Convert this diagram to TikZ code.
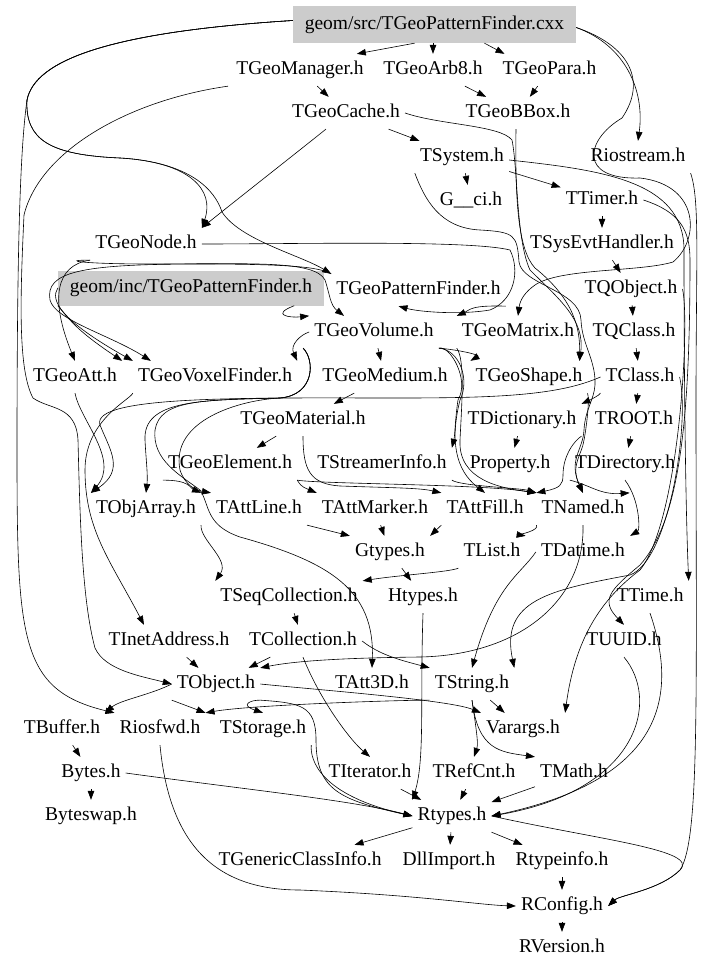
\documentclass[tikz,border=0pt]{standalone}
\usepackage{fontspec}
\setmainfont{Liberation Serif}
\usetikzlibrary{arrows.meta}
\definecolor{boxgray}{RGB}{204,204,204}
\begin{document}
\begin{tikzpicture}[x=1pt,y=-1pt,
  n/.style={font=\fontsize{19.5}{22}\selectfont, inner xsep=5pt, inner ysep=7pt, text height=13.6pt, text depth=4.3pt},
  g/.style={n, fill=boxgray},
  e/.style={-{Triangle[length=9pt,width=6.5pt]}, line width=0.6pt}]
\useasboundingbox (0,0) rectangle (713,971);
% nodes
\node[g, minimum width=283pt, minimum height=37pt] (C) at (434.5,24.5) {geom/src/TGeoPatternFinder.cxx};
\node[n] (GM) at (300,70) {TGeoManager.h};
\node[n] (GA) at (433,70) {TGeoArb8.h};
\node[n] (GP) at (549.5,70) {TGeoPara.h};
\node[n] (GC) at (346,113) {TGeoCache.h};
\node[n] (GB) at (518,113) {TGeoBBox.h};
\node[n] (SY) at (462,157) {TSystem.h};
\node[n] (RI) at (638,157) {Riostream.h};
\node[n] (GCI) at (471,201) {G\_\_ci.h};
\node[n] (TI) at (602,200) {TTimer.h};
\node[n] (GN) at (146,244) {TGeoNode.h};
\node[n] (SE) at (602,244) {TSysEvtHandler.h};
\node[g, minimum width=266pt, minimum height=35pt] (GIP) at (191,288) {geom/inc/TGeoPatternFinder.h};
\node[n] (GPF) at (418.5,290) {TGeoPatternFinder.h};
\node[n] (QO) at (631,289) {TQObject.h};
\node[n] (GV) at (374,332) {TGeoVolume.h};
\node[n] (GMX) at (518,332) {TGeoMatrix.h};
\node[n] (QC) at (634,332) {TQClass.h};
\node[n] (GAT) at (75,377) {TGeoAtt.h};
\node[n] (GVF) at (215,377) {TGeoVoxelFinder.h};
\node[n] (GMD) at (385,377) {TGeoMedium.h};
\node[n] (GS) at (529,377) {TGeoShape.h};
\node[n] (CL) at (640,377) {TClass.h};
\node[n] (GML) at (303,420) {TGeoMaterial.h};
\node[n] (DI) at (522,420) {TDictionary.h};
\node[n] (RO) at (634,420) {TROOT.h};
\node[n] (GE) at (230,464) {TGeoElement.h};
\node[n] (SI) at (382,464) {TStreamerInfo.h};
\node[n] (PR) at (510,464) {Property.h};
\node[n] (DR) at (625,464) {TDirectory.h};
\node[n] (OA) at (146,509) {TObjArray.h};
\node[n] (AL) at (259,509) {TAttLine.h};
\node[n] (AM) at (375,509) {TAttMarker.h};
\node[n] (AF) at (485,509) {TAttFill.h};
\node[n] (NA) at (583,509) {TNamed.h};
\node[n] (GT) at (390,552) {Gtypes.h};
\node[n] (LI) at (492,552) {TList.h};
\node[n] (DA) at (583,552) {TDatime.h};
\node[n] (SC) at (289,597) {TSeqCollection.h};
\node[n] (HT) at (423,597) {Htypes.h};
\node[n] (TT) at (650,597) {TTime.h};
\node[n] (IA) at (169,641) {TInetAddress.h};
\node[n] (CO) at (303,641) {TCollection.h};
\node[n] (UU) at (624,641) {TUUID.h};
\node[n] (OB) at (216,684) {TObject.h};
\node[n] (A3) at (372,684) {TAtt3D.h};
\node[n] (ST) at (472,684) {TString.h};
\node[n] (BU) at (62,729) {TBuffer.h};
\node[n] (RF) at (160,729) {Riosfwd.h};
\node[n] (SO) at (263,729) {TStorage.h};
\node[n] (VA) at (523,729) {Varargs.h};
\node[n] (BY) at (91,773) {Bytes.h};
\node[n] (IT) at (370,773) {TIterator.h};
\node[n] (RC) at (474,773) {TRefCnt.h};
\node[n] (MA) at (574,773) {TMath.h};
\node[n] (BS) at (91,816) {Byteswap.h};
\node[n] (RT) at (452,816) {Rtypes.h};
\node[n] (GCIh) at (300,861) {TGenericClassInfo.h};
\node[n] (DL) at (449,861) {DllImport.h};
\node[n] (RTI) at (562,861) {Rtypeinfo.h};
\node[n] (RCF) at (562,906) {RConfig.h};
\node[n] (RV) at (562,948) {RVersion.h};
% ---- edges: top
\draw[e] ([xshift=-20pt]C.south) -- ([xshift=-12pt]GM.north east);
\draw[e] (C.south -| GA) -- (GA);
\draw[e] ([xshift=50pt]C.south) -- ([xshift=-45pt]GP.north);
\draw[e] ([yshift=-3pt]C.east) .. controls (625,45) and (645,90) .. (RI.north);
\draw[e] ([yshift=-3pt]C.east) .. controls (628,45) and (648,80) .. (622,118) .. controls (585,140) and (578,180) .. (640,178) .. controls (700,185) and (700,240) .. (673,262) .. controls (640,272) and (560,268) .. (535,285) .. controls (525,292) and (520,300) .. (GMX.north);
\draw[e] ([yshift=4pt]C.west) .. controls (110,32) and (35,60) .. (27,100) .. controls (20,150) and (17,250) .. (17,450) .. controls (17,640) and (20,690) .. (RF.north west);
\draw[e] ([yshift=4pt]C.west) .. controls (110,32) and (35,60) .. (27,100) .. controls (25,140) and (50,155) .. (120,158) .. controls (190,162) and (215,190) .. (GN.north east);
\draw[e] ([yshift=4pt]C.west) .. controls (110,32) and (35,60) .. (27,100) .. controls (25,140) and (50,155) .. (120,158) .. controls (190,162) and (215,190) .. (222,212) .. controls (240,240) and (300,255) .. (GPF.north west);
\draw[e] ([xshift=-3pt]GM.south west) .. controls (130,100) and (40,150) .. (24,215) .. controls (20,300) and (18,370) .. (33,398) .. controls (50,410) and (76,405) .. (78,440) .. controls (80,520) and (82,600) .. (95,648) .. controls (105,670) and (140,676) .. (OB.west);
\draw[e] (GM) -- (GC);
\draw[e] (GA) -- (GB);
\draw[e] (GP) -- (GB);
\draw[e] (GC) -- (SY);
\draw[e] (GC) .. controls (300,150) and (230,205) .. (GN.north east);
\draw[e] (GC.east) .. controls (440,125) and (500,125) .. (512,140) .. controls (518,170) and (516,240) .. (530,270) .. controls (560,300) and (585,320) .. ([xshift=-8pt]GS.north east);
\draw[e] ([xshift=-2pt]GB.south) .. controls (515,200) and (518,250) .. (535,268) .. controls (575,300) and (580,330) .. ([xshift=-8pt]GS.north east);
\draw[e] (SY) -- (GCI);
\draw[e] (SY) -- (TI);
\draw[e] (TI) -- (SE);
\draw[e] (SE) -- (QO);
\draw[e] ([yshift=-3pt]SY.east) .. controls (600,170) and (684,180) .. (684,250) .. controls (684,400) and (686,520) .. (TT.north east);
\draw[e] (TI.east) .. controls (680,212) and (690,230) .. (690,260) .. controls (690,420) and (680,520) .. (640,565) .. controls (610,590) and (600,600) .. (UU.north);
\draw[e] (RI.south east) .. controls (700,200) and (696,260) .. (696,400) .. controls (696,700) and (700,840) .. (680,870) .. controls (660,890) and (620,895) .. (RCF.east);
\draw[e] (SY.south west) .. controls (425,200) and (440,228) .. (480,230) .. controls (515,232) and (517,235) .. (519,262) .. controls (522,285) and (580,290) .. (581,320) .. controls (582,345) and (596,360) .. (595,385) .. controls (594,400) and (585,410) .. (584,430) .. controls (583,450) and (568,460) .. (NA.north);
% ---- middle
\draw[e] (GN.south west) .. controls (55,265) and (50,300) .. (GAT.north);
\draw[e] (GN.east) .. controls (300,244) and (470,240) .. (510,250) .. controls (520,270) and (515,300) .. (490,310) .. controls (460,315) and (420,312) .. ([xshift=-20pt]GPF.south);
\draw[e] (GN.south west) .. controls (60,260) and (80,264) .. (150,264) .. controls (250,264) and (315,260) .. (325,280) .. controls (330,295) and (330,305) .. ([xshift=-30pt]GV.north);
\draw[e] ([xshift=-30pt]GIP.south east) .. controls (270,315) and (290,318) .. (GV.north west);
\draw[e] (GIP.west) .. controls (50,300) and (60,320) .. (GVF.north west);
\draw[e] (GPF.north west) .. controls (320,268) and (300,264) .. (200,264) .. controls (80,264) and (45,272) .. (50,300) .. controls (55,320) and (110,335) .. ([xshift=18pt]GVF.north west);
\draw[e] (GIP.south west) .. controls (70,320) and (76,330) .. (GAT.north east);
\draw[e] (GPF.south east) .. controls (470,305) and (470,310) .. (GMX.north west);
\draw[e] (GV) -- (GMD);
\draw[e] (GV.west) .. controls (300,335) and (290,345) .. (GVF.north east);
\draw[e] (GV.south east) .. controls (460,350) and (480,355) .. (GS.north west);
\draw[e] ([xshift=-6pt]GV.south west) .. controls (315,360) and (315,395) .. (280,398) .. controls (200,400) and (143,400) .. (145,440) .. controls (146,460) and (148,475) .. (OA.north);
\draw[e] ([xshift=-6pt]GV.south west) .. controls (315,360) and (315,395) .. (280,398) .. controls (200,400) and (160,400) .. (155,430) .. controls (152,460) and (180,475) .. (200,490) .. controls (210,505) and (205,525) .. (240,537) .. controls (330,562) and (375,590) .. (A3.north);
\draw[e] ([xshift=-6pt]GV.south west) .. controls (315,360) and (315,395) .. (280,398) .. controls (240,400) and (170,420) .. (180,470) .. controls (185,485) and (195,490) .. (AL.north west);
\draw[e] (GV.south east) .. controls (460,350) and (470,380) .. (460,400) .. controls (450,440) and (455,470) .. (AF.north);
\draw[e] (GV.south east) .. controls (450,345) and (470,380) .. (458,400) .. controls (455,420) and (455,435) .. (SI.north east);
\draw[e] (GMD) -- (GML);
\draw[e] (GML) -- (GE);
\draw[e] (GML.south) .. controls (303,470) and (310,484) .. (340,486) .. controls (400,488) and (420,488) .. (AF.north west);
\draw[e] (GE.south east) .. controls (320,484) and (480,484) .. (NA.north west);
\draw[e] (GE.south east) .. controls (300,484) and (300,486) .. (AM.north west);
\draw[e] (GE.south west) .. controls (190,480) and (190,488) .. (OA.north east);
\draw[e] (GS.south east) .. controls (590,400) and (586,430) .. (584,440) .. controls (582,455) and (570,465) .. (NA.north);
\draw[e] (GMX.south west) .. controls (465,360) and (462,400) .. (460,440) .. controls (458,480) and (500,488) .. (NA.north west);
\draw[e] (GAT.south) .. controls (80,420) and (120,460) .. (OA.north west);
\draw[e] (GVF.south west) .. controls (130,400) and (85,420) .. (85,470) .. controls (85,530) and (110,560) .. ([xshift=-25pt]IA.north);
\draw[e] (QO) -- (QC);
\draw[e] (QC) -- (CL);
\draw[e] (CL) -- (RO);
\draw[e] (CL.south west) .. controls (600,395) and (590,400) .. (DI.north east);
\draw[e] (CL.west) .. controls (560,395) and (500,398) .. (400,398) .. controls (250,398) and (90,395) .. (100,425) .. controls (110,450) and (125,470) .. (OA.north west);
\draw[e] (RO) -- (DR);
\draw[e] (DI) -- (PR);
\draw[e] (DI.south east) .. controls (575,440) and (563,455) .. (563,475) .. controls (563,485) and (560,488) .. (NA.north west);
\draw[e] (SI.south east) .. controls (460,486) and (520,488) .. (NA.north west);
\draw[e] (DR.south west) .. controls (590,485) and (600,495) .. (NA.north east);
\draw[e] (DR.south) .. controls (640,500) and (640,530) .. (DA.north east);
\draw[e] (QO.east) .. controls (690,320) and (680,520) .. (640,570) .. controls (600,600) and (575,640) .. (VA.north east);
\draw[e] (CL.east) .. controls (690,420) and (670,560) .. (630,575) .. controls (550,590) and (500,600) .. (ST.north east);
% ---- lower
\draw[e] (AL.south east) -- (GT.north west);
\draw[e] (AM) -- (GT);
\draw[e] (AF.south west) -- (GT.north east);
\draw[e] (GT) -- (HT);
\draw[e] (LI.south west) .. controls (450,572) and (400,575) .. (SC.north east);
\draw[e] (OA.south east) .. controls (200,540) and (230,560) .. (SC.north west);
\draw[e] (NA.south west) .. controls (540,530) and (520,535) .. (LI.north east);
\draw[e] (NA.south) .. controls (585,600) and (520,655) .. (420,657) .. controls (330,658) and (290,662) .. (OB.north east);
\draw[e] (DA.west) .. controls (520,575) and (495,585) .. (ST.north);
\draw[e] (SC) -- (CO);
\draw[e] (CO) -- (OB);
\draw[e] (CO.east) .. controls (380,655) and (400,660) .. (ST.north west);
\draw[e] (CO.south) .. controls (320,700) and (350,740) .. (IT.north);
\draw[e] (IA) -- (OB);
\draw[e] (TT.south) .. controls (680,700) and (660,780) .. (RT.east);
\draw[e] (UU.south) .. controls (660,700) and (640,790) .. (RT.east);
\draw[e] (HT.south) .. controls (420,700) and (425,760) .. (RT.north west);
\draw[e] (OB.south west) -- (RF.north east);
\draw[e] (OB.west) .. controls (150,695) and (120,700) .. (BU.north east);
\draw[e] (OB.south east) .. controls (250,700) and (240,705) .. (SO.north);
\draw[e] (OB.east) .. controls (320,690) and (450,700) .. (VA.north west);
\draw[e] (OB.south east) .. controls (300,703) and (316,705) .. (316,740) .. controls (316,790) and (340,800) .. (RT.west);
\draw[e] (ST.south west) .. controls (400,700) and (250,705) .. (RF.north east);
\draw[e] (ST) -- (VA);
\draw[e] (ST.south) .. controls (478,740) and (478,745) .. (RC.north);
\draw[e] (ST.south) .. controls (478,750) and (500,752) .. (MA.north west);
\draw[e] (BU) -- (BY);
\draw[e] (BY) -- (BS);
\draw[e] (BY.east) .. controls (250,790) and (350,800) .. (RT.west);
\draw[e] (SO.south east) .. controls (310,760) and (320,795) .. (RT.west);
\draw[e] (IT) -- (RT);
\draw[e] (RC) -- (RT);
\draw[e] (MA) -- (RT);
\draw[e] (RT) -- (GCIh);
\draw[e] (RT) -- (DL);
\draw[e] (RT) -- (RTI);
\draw[e] (RT.east) .. controls (600,840) and (700,850) .. (680,870) .. controls (660,890) and (620,895) .. (RCF.east);
\draw[e] (RF.south) .. controls (170,850) and (220,890) .. (300,890) .. controls (420,895) and (480,905) .. (RCF.west);
\draw[e] (RTI) -- (RCF);
\draw[e] (RCF) -- (RV);
\end{tikzpicture}
\end{document}
